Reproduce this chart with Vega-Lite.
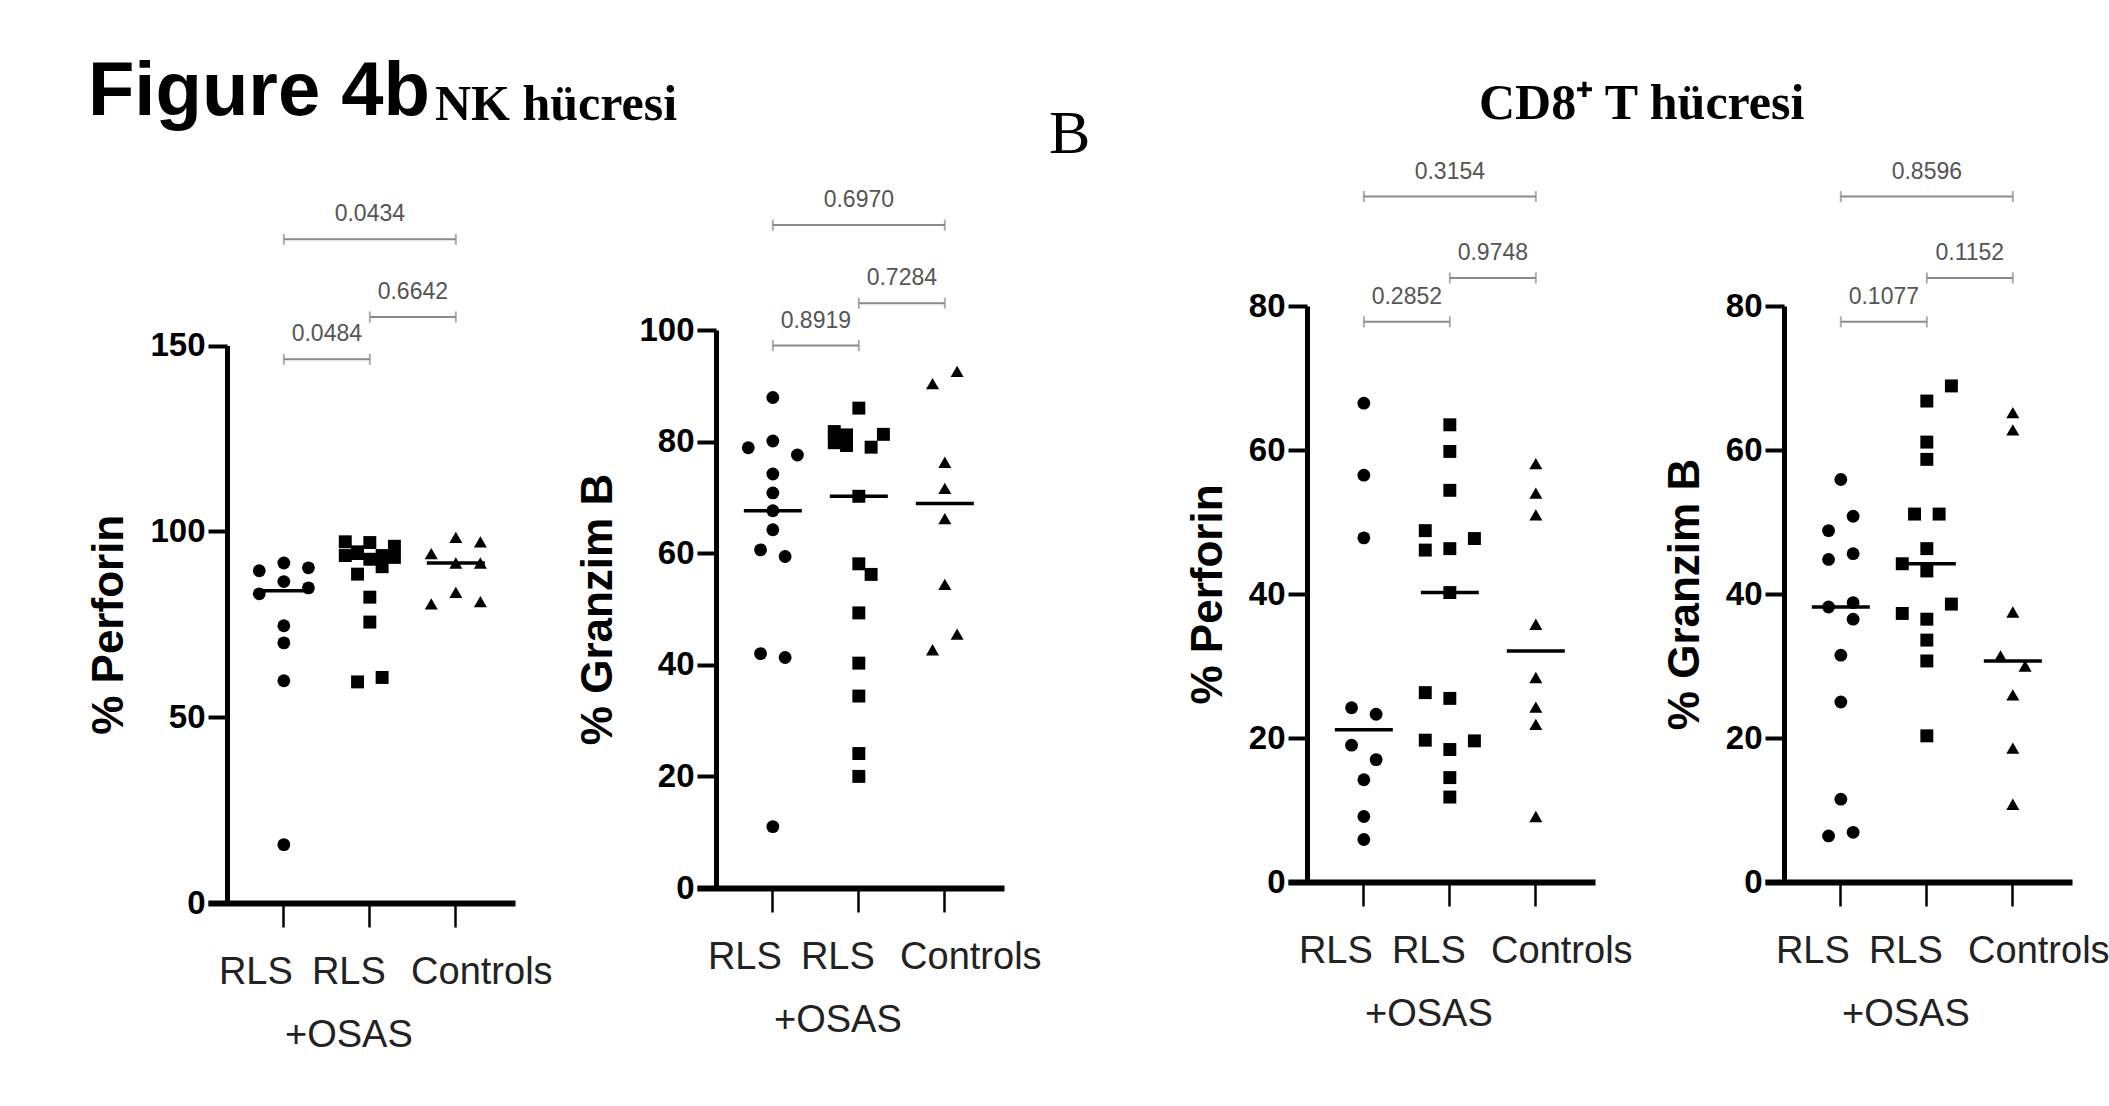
{
  "$schema": "https://vega.github.io/schema/vega-lite/v6.json",
  "padding": {"left": 87, "top": 53, "right": 5, "bottom": 5},
  "background": "white",
  "config": {"view": {"stroke": null}, "font": "Liberation Sans",
    "axisX": {"title": null, "labelExpr": "datum.value == 'RLS+OSAS' ? ['RLS', '+OSAS'] : datum.value", "labelAngle": 0, "domainWidth": 6, "domainColor": "black", "tickColor": "black", "tickWidth": 2.5, "tickSize": 24, "labelFont": "Liberation Sans", "labelFontSize": 38, "labelColor": "#222", "labelPadding": 26, "labelLineHeight": 63,
      "labelOffset": {"condition": [{"test": "datum.value == 'RLS'", "value": -28}, {"test": "datum.value == 'Controls'", "value": 26}], "value": -21}},
    "axisY": {"grid": false, "offset": -19, "domainWidth": 5, "domainColor": "black", "tickWidth": 4, "tickSize": 19, "tickColor": "black", "labelFont": "Liberation Sans", "labelFontWeight": "bold", "labelFontSize": 33, "labelColor": "black", "labelPadding": 3, "titleFont": "Liberation Sans", "titleFontWeight": "bold", "titleFontSize": 44, "titleColor": "black", "titlePadding": 18}
  },
  "title": {"text": "Figure 4b", "anchor": "start", "font": "Liberation Sans", "fontWeight": "bold", "fontSize": 76, "color": "black", "dy": 56},
  "datasets": {
    "pts": [
      {"panel":"nk_perf","group":"RLS","value":89.4,"slot":-2},{"panel":"nk_perf","group":"RLS","value":91.5,"slot":0},{"panel":"nk_perf","group":"RLS","value":90.2,"slot":2},{"panel":"nk_perf","group":"RLS","value":86.5,"slot":0},{"panel":"nk_perf","group":"RLS","value":83.2,"slot":-2},{"panel":"nk_perf","group":"RLS","value":84.8,"slot":2},{"panel":"nk_perf","group":"RLS","value":74.6,"slot":0},{"panel":"nk_perf","group":"RLS","value":70.0,"slot":0},{"panel":"nk_perf","group":"RLS","value":59.8,"slot":0},{"panel":"nk_perf","group":"RLS","value":15.7,"slot":0},
      {"panel":"nk_perf","group":"RLS+OSAS","value":97.2,"slot":-2},{"panel":"nk_perf","group":"RLS+OSAS","value":97.0,"slot":0},{"panel":"nk_perf","group":"RLS+OSAS","value":96.0,"slot":2},{"panel":"nk_perf","group":"RLS+OSAS","value":94.5,"slot":-1},{"panel":"nk_perf","group":"RLS+OSAS","value":93.5,"slot":1},{"panel":"nk_perf","group":"RLS+OSAS","value":93.0,"slot":2},{"panel":"nk_perf","group":"RLS+OSAS","value":93.5,"slot":-2},{"panel":"nk_perf","group":"RLS+OSAS","value":92.5,"slot":0},{"panel":"nk_perf","group":"RLS+OSAS","value":90.5,"slot":1},{"panel":"nk_perf","group":"RLS+OSAS","value":88.5,"slot":-1},{"panel":"nk_perf","group":"RLS+OSAS","value":82.3,"slot":0},{"panel":"nk_perf","group":"RLS+OSAS","value":75.6,"slot":0},{"panel":"nk_perf","group":"RLS+OSAS","value":60.7,"slot":1},{"panel":"nk_perf","group":"RLS+OSAS","value":59.5,"slot":-1},
      {"panel":"nk_perf","group":"Controls","value":94.0,"slot":-2},{"panel":"nk_perf","group":"Controls","value":98.4,"slot":0},{"panel":"nk_perf","group":"Controls","value":97.2,"slot":2},{"panel":"nk_perf","group":"Controls","value":91.5,"slot":0},{"panel":"nk_perf","group":"Controls","value":91.5,"slot":2},{"panel":"nk_perf","group":"Controls","value":80.5,"slot":-2},{"panel":"nk_perf","group":"Controls","value":83.6,"slot":0},{"panel":"nk_perf","group":"Controls","value":81.1,"slot":2},

      {"panel":"nk_gzm","group":"RLS","value":87.9,"slot":0},{"panel":"nk_gzm","group":"RLS","value":78.9,"slot":-2},{"panel":"nk_gzm","group":"RLS","value":80.1,"slot":0},{"panel":"nk_gzm","group":"RLS","value":77.6,"slot":2},{"panel":"nk_gzm","group":"RLS","value":74.2,"slot":0},{"panel":"nk_gzm","group":"RLS","value":70.8,"slot":0},{"panel":"nk_gzm","group":"RLS","value":67.6,"slot":0},{"panel":"nk_gzm","group":"RLS","value":64.2,"slot":0},{"panel":"nk_gzm","group":"RLS","value":60.6,"slot":-1},{"panel":"nk_gzm","group":"RLS","value":59.4,"slot":1},{"panel":"nk_gzm","group":"RLS","value":42.0,"slot":-1},{"panel":"nk_gzm","group":"RLS","value":41.3,"slot":1},{"panel":"nk_gzm","group":"RLS","value":11.0,"slot":0},
      {"panel":"nk_gzm","group":"RLS+OSAS","value":86.0,"slot":0},{"panel":"nk_gzm","group":"RLS+OSAS","value":81.8,"slot":-2},{"panel":"nk_gzm","group":"RLS+OSAS","value":81.2,"slot":-1},{"panel":"nk_gzm","group":"RLS+OSAS","value":79.8,"slot":-2},{"panel":"nk_gzm","group":"RLS+OSAS","value":79.3,"slot":-1},{"panel":"nk_gzm","group":"RLS+OSAS","value":81.3,"slot":2},{"panel":"nk_gzm","group":"RLS+OSAS","value":79.0,"slot":1},{"panel":"nk_gzm","group":"RLS+OSAS","value":70.2,"slot":0},{"panel":"nk_gzm","group":"RLS+OSAS","value":58.1,"slot":0},{"panel":"nk_gzm","group":"RLS+OSAS","value":56.2,"slot":1},{"panel":"nk_gzm","group":"RLS+OSAS","value":49.3,"slot":0},{"panel":"nk_gzm","group":"RLS+OSAS","value":40.3,"slot":0},{"panel":"nk_gzm","group":"RLS+OSAS","value":34.4,"slot":0},{"panel":"nk_gzm","group":"RLS+OSAS","value":24.1,"slot":0},{"panel":"nk_gzm","group":"RLS+OSAS","value":20.0,"slot":0},
      {"panel":"nk_gzm","group":"Controls","value":90.4,"slot":-1},{"panel":"nk_gzm","group":"Controls","value":92.6,"slot":1},{"panel":"nk_gzm","group":"Controls","value":76.3,"slot":0},{"panel":"nk_gzm","group":"Controls","value":71.6,"slot":0},{"panel":"nk_gzm","group":"Controls","value":66.2,"slot":0},{"panel":"nk_gzm","group":"Controls","value":54.4,"slot":0},{"panel":"nk_gzm","group":"Controls","value":42.7,"slot":-1},{"panel":"nk_gzm","group":"Controls","value":45.5,"slot":1},

      {"panel":"cd8_perf","group":"RLS","value":66.5,"slot":0},{"panel":"cd8_perf","group":"RLS","value":56.5,"slot":0},{"panel":"cd8_perf","group":"RLS","value":47.8,"slot":0},{"panel":"cd8_perf","group":"RLS","value":24.2,"slot":-1},{"panel":"cd8_perf","group":"RLS","value":23.3,"slot":1},{"panel":"cd8_perf","group":"RLS","value":19.0,"slot":-1},{"panel":"cd8_perf","group":"RLS","value":17.0,"slot":1},{"panel":"cd8_perf","group":"RLS","value":14.2,"slot":0},{"panel":"cd8_perf","group":"RLS","value":9.1,"slot":0},{"panel":"cd8_perf","group":"RLS","value":5.9,"slot":0},
      {"panel":"cd8_perf","group":"RLS+OSAS","value":63.5,"slot":0},{"panel":"cd8_perf","group":"RLS+OSAS","value":59.8,"slot":0},{"panel":"cd8_perf","group":"RLS+OSAS","value":54.4,"slot":0},{"panel":"cd8_perf","group":"RLS+OSAS","value":48.8,"slot":-2},{"panel":"cd8_perf","group":"RLS+OSAS","value":46.1,"slot":-2},{"panel":"cd8_perf","group":"RLS+OSAS","value":46.3,"slot":0},{"panel":"cd8_perf","group":"RLS+OSAS","value":47.7,"slot":2},{"panel":"cd8_perf","group":"RLS+OSAS","value":40.2,"slot":0},{"panel":"cd8_perf","group":"RLS+OSAS","value":26.3,"slot":-2},{"panel":"cd8_perf","group":"RLS+OSAS","value":25.5,"slot":0},{"panel":"cd8_perf","group":"RLS+OSAS","value":19.7,"slot":-2},{"panel":"cd8_perf","group":"RLS+OSAS","value":19.6,"slot":2},{"panel":"cd8_perf","group":"RLS+OSAS","value":18.4,"slot":0},{"panel":"cd8_perf","group":"RLS+OSAS","value":14.5,"slot":0},{"panel":"cd8_perf","group":"RLS+OSAS","value":11.8,"slot":0},
      {"panel":"cd8_perf","group":"Controls","value":58.1,"slot":0},{"panel":"cd8_perf","group":"Controls","value":54.0,"slot":0},{"panel":"cd8_perf","group":"Controls","value":51.0,"slot":0},{"panel":"cd8_perf","group":"Controls","value":35.8,"slot":0},{"panel":"cd8_perf","group":"Controls","value":28.4,"slot":0},{"panel":"cd8_perf","group":"Controls","value":24.3,"slot":0},{"panel":"cd8_perf","group":"Controls","value":21.9,"slot":0},{"panel":"cd8_perf","group":"Controls","value":9.1,"slot":0},

      {"panel":"cd8_gzm","group":"RLS","value":55.9,"slot":0},{"panel":"cd8_gzm","group":"RLS","value":48.8,"slot":-1},{"panel":"cd8_gzm","group":"RLS","value":50.8,"slot":1},{"panel":"cd8_gzm","group":"RLS","value":44.8,"slot":-1},{"panel":"cd8_gzm","group":"RLS","value":45.6,"slot":1},{"panel":"cd8_gzm","group":"RLS","value":38.2,"slot":-1},{"panel":"cd8_gzm","group":"RLS","value":38.8,"slot":1},{"panel":"cd8_gzm","group":"RLS","value":36.5,"slot":1},{"panel":"cd8_gzm","group":"RLS","value":31.5,"slot":0},{"panel":"cd8_gzm","group":"RLS","value":25.0,"slot":0},{"panel":"cd8_gzm","group":"RLS","value":11.5,"slot":0},{"panel":"cd8_gzm","group":"RLS","value":6.4,"slot":-1},{"panel":"cd8_gzm","group":"RLS","value":6.9,"slot":1},
      {"panel":"cd8_gzm","group":"RLS+OSAS","value":68.9,"slot":2},{"panel":"cd8_gzm","group":"RLS+OSAS","value":66.8,"slot":0},{"panel":"cd8_gzm","group":"RLS+OSAS","value":61.1,"slot":0},{"panel":"cd8_gzm","group":"RLS+OSAS","value":58.7,"slot":0},{"panel":"cd8_gzm","group":"RLS+OSAS","value":51.1,"slot":-1},{"panel":"cd8_gzm","group":"RLS+OSAS","value":51.1,"slot":1},{"panel":"cd8_gzm","group":"RLS+OSAS","value":46.3,"slot":0},{"panel":"cd8_gzm","group":"RLS+OSAS","value":44.2,"slot":-2},{"panel":"cd8_gzm","group":"RLS+OSAS","value":43.2,"slot":0},{"panel":"cd8_gzm","group":"RLS+OSAS","value":38.6,"slot":2},{"panel":"cd8_gzm","group":"RLS+OSAS","value":37.3,"slot":-2},{"panel":"cd8_gzm","group":"RLS+OSAS","value":36.5,"slot":0},{"panel":"cd8_gzm","group":"RLS+OSAS","value":33.6,"slot":0},{"panel":"cd8_gzm","group":"RLS+OSAS","value":30.7,"slot":0},{"panel":"cd8_gzm","group":"RLS+OSAS","value":20.3,"slot":0},
      {"panel":"cd8_gzm","group":"Controls","value":65.2,"slot":0},{"panel":"cd8_gzm","group":"Controls","value":62.8,"slot":0},{"panel":"cd8_gzm","group":"Controls","value":37.5,"slot":0},{"panel":"cd8_gzm","group":"Controls","value":31.4,"slot":-1},{"panel":"cd8_gzm","group":"Controls","value":30.0,"slot":1},{"panel":"cd8_gzm","group":"Controls","value":26.0,"slot":0},{"panel":"cd8_gzm","group":"Controls","value":18.6,"slot":0},{"panel":"cd8_gzm","group":"Controls","value":10.8,"slot":0}
    ],
    "br": [
      {"panel":"nk_perf","from":"RLS","to":"RLS+OSAS","level":146.3,"label":"0.0484","kind":"adj","mid":"RLS"},
      {"panel":"nk_perf","from":"RLS+OSAS","to":"Controls","level":157.7,"label":"0.6642","kind":"adj","mid":"RLS+OSAS"},
      {"panel":"nk_perf","from":"RLS","to":"Controls","level":178.6,"label":"0.0434","kind":"outer","mid":"RLS+OSAS"},
      {"panel":"nk_gzm","from":"RLS","to":"RLS+OSAS","level":97.2,"label":"0.8919","kind":"adj","mid":"RLS"},
      {"panel":"nk_gzm","from":"RLS+OSAS","to":"Controls","level":104.8,"label":"0.7284","kind":"adj","mid":"RLS+OSAS"},
      {"panel":"nk_gzm","from":"RLS","to":"Controls","level":118.8,"label":"0.6970","kind":"outer","mid":"RLS+OSAS"},
      {"panel":"cd8_perf","from":"RLS","to":"RLS+OSAS","level":77.8,"label":"0.2852","kind":"adj","mid":"RLS"},
      {"panel":"cd8_perf","from":"RLS+OSAS","to":"Controls","level":83.9,"label":"0.9748","kind":"adj","mid":"RLS+OSAS"},
      {"panel":"cd8_perf","from":"RLS","to":"Controls","level":95.2,"label":"0.3154","kind":"outer","mid":"RLS+OSAS"},
      {"panel":"cd8_gzm","from":"RLS","to":"RLS+OSAS","level":77.8,"label":"0.1077","kind":"adj","mid":"RLS"},
      {"panel":"cd8_gzm","from":"RLS+OSAS","to":"Controls","level":83.9,"label":"0.1152","kind":"adj","mid":"RLS+OSAS"},
      {"panel":"cd8_gzm","from":"RLS","to":"Controls","level":95.2,"label":"0.8596","kind":"outer","mid":"RLS+OSAS"}
    ]
  },
  "spacing": 7,
  "hconcat": [
    {
      "title": {"text": "NK hücresi", "anchor": "start", "font": "Liberation Serif", "fontWeight": "bold", "fontSize": 50, "color": "black", "dx": 347, "dy": -55},
      "spacing": 23,
      "hconcat": [
        {
          "width": 307, "height": 610,
          "layer": [
            {"data": {"name": "pts"}, "transform": [{"filter": "datum.panel == 'nk_perf'"}],
             "mark": {"type": "point", "filled": true, "opacity": 1, "color": "black"},
             "encoding": {
               "x": {"field": "group", "type": "nominal", "scale": {"domain": ["RLS","RLS+OSAS","Controls"], "paddingInner": 0, "paddingOuter": 0.285, "align": 0.67}, "axis": {"offset": -1}},
               "xOffset": {"field": "slot", "type": "ordinal", "scale": {"domain": [-3,-2,-1,0,1,2,3]}},
               "y": {"field": "value", "type": "quantitative", "scale": {"domain": [0,150], "range": [609, 51.6], "nice": false}, "axis": {"title": "% Perforin", "values": [0,50,100,150]}},
               "shape": {"field": "group", "type": "nominal", "scale": {"domain": ["RLS","RLS+OSAS","Controls"], "range": ["circle","square","triangle-up"]}, "legend": null},
               "size": {"field": "group", "type": "nominal", "scale": {"domain": ["RLS","RLS+OSAS","Controls"], "range": [165, 170, 210]}, "legend": null}
             }},
            {"data": {"name": "pts"}, "transform": [{"filter": "datum.panel == 'nk_perf'"}],
             "mark": {"type": "tick", "orient": "horizontal", "color": "black", "thickness": 3.5, "size": 58},
             "encoding": {"x": {"field": "group", "type": "nominal"}, "y": {"aggregate": "median", "field": "value", "type": "quantitative"}}},
            {"data": {"name": "br"}, "transform": [{"filter": "datum.panel == 'nk_perf'"}],
             "mark": {"type": "rule", "color": "#8a8a8a", "strokeWidth": 2},
             "encoding": {"x": {"field": "from", "type": "nominal"}, "x2": {"field": "to"}, "y": {"field": "level", "type": "quantitative"}}},
            {"data": {"name": "br"}, "transform": [{"filter": "datum.panel == 'nk_perf'"}],
             "mark": {"type": "tick", "orient": "vertical", "color": "#8a8a8a", "thickness": 2, "size": 11},
             "encoding": {"x": {"field": "from", "type": "nominal"}, "y": {"field": "level", "type": "quantitative"}}},
            {"data": {"name": "br"}, "transform": [{"filter": "datum.panel == 'nk_perf'"}],
             "mark": {"type": "tick", "orient": "vertical", "color": "#8a8a8a", "thickness": 2, "size": 11},
             "encoding": {"x": {"field": "to", "type": "nominal"}, "y": {"field": "level", "type": "quantitative"}}},
            {"data": {"name": "br"}, "transform": [{"filter": "datum.panel == 'nk_perf' && datum.kind == 'adj'"}],
             "mark": {"type": "text", "font": "Liberation Sans", "fontSize": 23, "color": "#555", "baseline": "middle", "dy": -25},
             "encoding": {"x": {"field": "from", "type": "nominal", "bandPosition": 1}, "y": {"field": "level", "type": "quantitative"}, "text": {"field": "label"}}},
            {"data": {"name": "br"}, "transform": [{"filter": "datum.panel == 'nk_perf' && datum.kind == 'outer'"}],
             "mark": {"type": "text", "font": "Liberation Sans", "fontSize": 23, "color": "#555", "baseline": "middle", "dy": -25},
             "encoding": {"x": {"field": "mid", "type": "nominal"}, "y": {"field": "level", "type": "quantitative"}, "text": {"field": "label"}}}
          ]
        },
        {
          "width": 307, "height": 610,
          "layer": [
            {"data": {"name": "pts"}, "transform": [{"filter": "datum.panel == 'nk_gzm'"}],
             "mark": {"type": "point", "filled": true, "opacity": 1, "color": "black"},
             "encoding": {
               "x": {"field": "group", "type": "nominal", "scale": {"domain": ["RLS","RLS+OSAS","Controls"], "paddingInner": 0, "paddingOuter": 0.285, "align": 0.67}, "axis": {"offset": -16}},
               "xOffset": {"field": "slot", "type": "ordinal", "scale": {"domain": [-3,-2,-1,0,1,2,3]}},
               "y": {"field": "value", "type": "quantitative", "scale": {"domain": [0,100], "range": [594, 36], "nice": false}, "axis": {"title": "% Granzim B", "values": [0,20,40,60,80,100]}},
               "shape": {"field": "group", "type": "nominal", "scale": {"domain": ["RLS","RLS+OSAS","Controls"], "range": ["circle","square","triangle-up"]}, "legend": null},
               "size": {"field": "group", "type": "nominal", "scale": {"domain": ["RLS","RLS+OSAS","Controls"], "range": [165, 170, 210]}, "legend": null}
             }},
            {"data": {"name": "pts"}, "transform": [{"filter": "datum.panel == 'nk_gzm'"}],
             "mark": {"type": "tick", "orient": "horizontal", "color": "black", "thickness": 3.5, "size": 58},
             "encoding": {"x": {"field": "group", "type": "nominal"}, "y": {"aggregate": "median", "field": "value", "type": "quantitative"}}},
            {"data": {"name": "br"}, "transform": [{"filter": "datum.panel == 'nk_gzm'"}],
             "mark": {"type": "rule", "color": "#8a8a8a", "strokeWidth": 2},
             "encoding": {"x": {"field": "from", "type": "nominal"}, "x2": {"field": "to"}, "y": {"field": "level", "type": "quantitative"}}},
            {"data": {"name": "br"}, "transform": [{"filter": "datum.panel == 'nk_gzm'"}],
             "mark": {"type": "tick", "orient": "vertical", "color": "#8a8a8a", "thickness": 2, "size": 11},
             "encoding": {"x": {"field": "from", "type": "nominal"}, "y": {"field": "level", "type": "quantitative"}}},
            {"data": {"name": "br"}, "transform": [{"filter": "datum.panel == 'nk_gzm'"}],
             "mark": {"type": "tick", "orient": "vertical", "color": "#8a8a8a", "thickness": 2, "size": 11},
             "encoding": {"x": {"field": "to", "type": "nominal"}, "y": {"field": "level", "type": "quantitative"}}},
            {"data": {"name": "br"}, "transform": [{"filter": "datum.panel == 'nk_gzm' && datum.kind == 'adj'"}],
             "mark": {"type": "text", "font": "Liberation Sans", "fontSize": 23, "color": "#555", "baseline": "middle", "dy": -25},
             "encoding": {"x": {"field": "from", "type": "nominal", "bandPosition": 1}, "y": {"field": "level", "type": "quantitative"}, "text": {"field": "label"}}},
            {"data": {"name": "br"}, "transform": [{"filter": "datum.panel == 'nk_gzm' && datum.kind == 'outer'"}],
             "mark": {"type": "text", "font": "Liberation Sans", "fontSize": 23, "color": "#555", "baseline": "middle", "dy": -25},
             "encoding": {"x": {"field": "mid", "type": "nominal"}, "y": {"field": "level", "type": "quantitative"}, "text": {"field": "label"}}}
          ]
        }
      ]
    },
    {
      "title": {"text": "CD8⁺ T hücresi", "anchor": "start", "font": "Liberation Serif", "fontWeight": "bold", "fontSize": 50, "color": "black", "dx": 430, "dy": 30},
      "spacing": 30,
      "hconcat": [
        {
          "width": 307, "height": 610,
          "title": {"text": "B", "anchor": "start", "frame": "group", "font": "Liberation Serif", "fontWeight": "normal", "fontSize": 62, "color": "black", "dx": -239, "dy": 9},
          "layer": [
            {"data": {"name": "pts"}, "transform": [{"filter": "datum.panel == 'cd8_perf'"}],
             "mark": {"type": "point", "filled": true, "opacity": 1, "color": "black"},
             "encoding": {
               "x": {"field": "group", "type": "nominal", "scale": {"domain": ["RLS","RLS+OSAS","Controls"], "paddingInner": 0, "paddingOuter": 0.285, "align": 0.67}, "axis": {"offset": -22}},
               "xOffset": {"field": "slot", "type": "ordinal", "scale": {"domain": [-3,-2,-1,0,1,2,3]}},
               "y": {"field": "value", "type": "quantitative", "scale": {"domain": [0,80], "range": [588, 12], "nice": false}, "axis": {"title": "% Perforin", "values": [0,20,40,60,80]}},
               "shape": {"field": "group", "type": "nominal", "scale": {"domain": ["RLS","RLS+OSAS","Controls"], "range": ["circle","square","triangle-up"]}, "legend": null},
               "size": {"field": "group", "type": "nominal", "scale": {"domain": ["RLS","RLS+OSAS","Controls"], "range": [165, 170, 210]}, "legend": null}
             }},
            {"data": {"name": "pts"}, "transform": [{"filter": "datum.panel == 'cd8_perf'"}],
             "mark": {"type": "tick", "orient": "horizontal", "color": "black", "thickness": 3.5, "size": 58},
             "encoding": {"x": {"field": "group", "type": "nominal"}, "y": {"aggregate": "median", "field": "value", "type": "quantitative"}}},
            {"data": {"name": "br"}, "transform": [{"filter": "datum.panel == 'cd8_perf'"}],
             "mark": {"type": "rule", "color": "#8a8a8a", "strokeWidth": 2},
             "encoding": {"x": {"field": "from", "type": "nominal"}, "x2": {"field": "to"}, "y": {"field": "level", "type": "quantitative"}}},
            {"data": {"name": "br"}, "transform": [{"filter": "datum.panel == 'cd8_perf'"}],
             "mark": {"type": "tick", "orient": "vertical", "color": "#8a8a8a", "thickness": 2, "size": 11},
             "encoding": {"x": {"field": "from", "type": "nominal"}, "y": {"field": "level", "type": "quantitative"}}},
            {"data": {"name": "br"}, "transform": [{"filter": "datum.panel == 'cd8_perf'"}],
             "mark": {"type": "tick", "orient": "vertical", "color": "#8a8a8a", "thickness": 2, "size": 11},
             "encoding": {"x": {"field": "to", "type": "nominal"}, "y": {"field": "level", "type": "quantitative"}}},
            {"data": {"name": "br"}, "transform": [{"filter": "datum.panel == 'cd8_perf' && datum.kind == 'adj'"}],
             "mark": {"type": "text", "font": "Liberation Sans", "fontSize": 23, "color": "#555", "baseline": "middle", "dy": -25},
             "encoding": {"x": {"field": "from", "type": "nominal", "bandPosition": 1}, "y": {"field": "level", "type": "quantitative"}, "text": {"field": "label"}}},
            {"data": {"name": "br"}, "transform": [{"filter": "datum.panel == 'cd8_perf' && datum.kind == 'outer'"}],
             "mark": {"type": "text", "font": "Liberation Sans", "fontSize": 23, "color": "#555", "baseline": "middle", "dy": -25},
             "encoding": {"x": {"field": "mid", "type": "nominal"}, "y": {"field": "level", "type": "quantitative"}, "text": {"field": "label"}}}
          ]
        },
        {
          "width": 307, "height": 610,
          "layer": [
            {"data": {"name": "pts"}, "transform": [{"filter": "datum.panel == 'cd8_gzm'"}],
             "mark": {"type": "point", "filled": true, "opacity": 1, "color": "black"},
             "encoding": {
               "x": {"field": "group", "type": "nominal", "scale": {"domain": ["RLS","RLS+OSAS","Controls"], "paddingInner": 0, "paddingOuter": 0.285, "align": 0.67}, "axis": {"offset": -22}},
               "xOffset": {"field": "slot", "type": "ordinal", "scale": {"domain": [-3,-2,-1,0,1,2,3]}},
               "y": {"field": "value", "type": "quantitative", "scale": {"domain": [0,80], "range": [588, 12], "nice": false}, "axis": {"title": "% Granzim B", "values": [0,20,40,60,80]}},
               "shape": {"field": "group", "type": "nominal", "scale": {"domain": ["RLS","RLS+OSAS","Controls"], "range": ["circle","square","triangle-up"]}, "legend": null},
               "size": {"field": "group", "type": "nominal", "scale": {"domain": ["RLS","RLS+OSAS","Controls"], "range": [165, 170, 210]}, "legend": null}
             }},
            {"data": {"name": "pts"}, "transform": [{"filter": "datum.panel == 'cd8_gzm'"}],
             "mark": {"type": "tick", "orient": "horizontal", "color": "black", "thickness": 3.5, "size": 58},
             "encoding": {"x": {"field": "group", "type": "nominal"}, "y": {"aggregate": "median", "field": "value", "type": "quantitative"}}},
            {"data": {"name": "br"}, "transform": [{"filter": "datum.panel == 'cd8_gzm'"}],
             "mark": {"type": "rule", "color": "#8a8a8a", "strokeWidth": 2},
             "encoding": {"x": {"field": "from", "type": "nominal"}, "x2": {"field": "to"}, "y": {"field": "level", "type": "quantitative"}}},
            {"data": {"name": "br"}, "transform": [{"filter": "datum.panel == 'cd8_gzm'"}],
             "mark": {"type": "tick", "orient": "vertical", "color": "#8a8a8a", "thickness": 2, "size": 11},
             "encoding": {"x": {"field": "from", "type": "nominal"}, "y": {"field": "level", "type": "quantitative"}}},
            {"data": {"name": "br"}, "transform": [{"filter": "datum.panel == 'cd8_gzm'"}],
             "mark": {"type": "tick", "orient": "vertical", "color": "#8a8a8a", "thickness": 2, "size": 11},
             "encoding": {"x": {"field": "to", "type": "nominal"}, "y": {"field": "level", "type": "quantitative"}}},
            {"data": {"name": "br"}, "transform": [{"filter": "datum.panel == 'cd8_gzm' && datum.kind == 'adj'"}],
             "mark": {"type": "text", "font": "Liberation Sans", "fontSize": 23, "color": "#555", "baseline": "middle", "dy": -25},
             "encoding": {"x": {"field": "from", "type": "nominal", "bandPosition": 1}, "y": {"field": "level", "type": "quantitative"}, "text": {"field": "label"}}},
            {"data": {"name": "br"}, "transform": [{"filter": "datum.panel == 'cd8_gzm' && datum.kind == 'outer'"}],
             "mark": {"type": "text", "font": "Liberation Sans", "fontSize": 23, "color": "#555", "baseline": "middle", "dy": -25},
             "encoding": {"x": {"field": "mid", "type": "nominal"}, "y": {"field": "level", "type": "quantitative"}, "text": {"field": "label"}}}
          ]
        }
      ]
    }
  ]
}
